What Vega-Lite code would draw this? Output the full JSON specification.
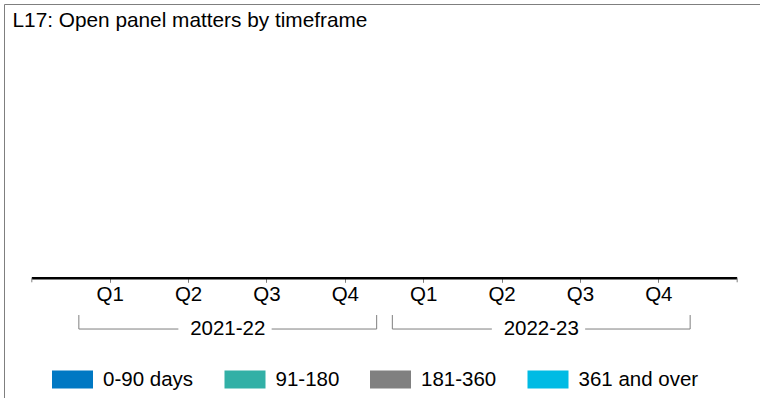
{
  "$schema": "https://vega.github.io/schema/vega-lite/v6.json",
  "width": 761,
  "height": 400,
  "autosize": {"type": "none"},
  "padding": {"left": 4, "top": 4, "right": -5, "bottom": -6},
  "background": "white",
  "config": {"font": "Liberation Sans", "view": {"stroke": "#7f7f7f", "strokeWidth": 1}},
  "title": {
    "text": "L17: Open panel matters by timeframe",
    "anchor": "start",
    "frame": "group",
    "orient": "top",
    "offset": -44,
    "dx": 8.5,
    "fontSize": 20.8,
    "fontWeight": "normal",
    "color": "black",
    "font": "Liberation Sans",
    "baseline": "alphabetic"
  },
  "datasets": {
    "matters": [
      {"quarter": "2021-22 Q1", "timeframe": "0-90 days", "matters": 0},
      {"quarter": "2021-22 Q1", "timeframe": "91-180", "matters": 0},
      {"quarter": "2021-22 Q1", "timeframe": "181-360", "matters": 0},
      {"quarter": "2021-22 Q1", "timeframe": "361 and over", "matters": 0},
      {"quarter": "2021-22 Q2", "timeframe": "0-90 days", "matters": 0},
      {"quarter": "2021-22 Q2", "timeframe": "91-180", "matters": 0},
      {"quarter": "2021-22 Q2", "timeframe": "181-360", "matters": 0},
      {"quarter": "2021-22 Q2", "timeframe": "361 and over", "matters": 0},
      {"quarter": "2021-22 Q3", "timeframe": "0-90 days", "matters": 0},
      {"quarter": "2021-22 Q3", "timeframe": "91-180", "matters": 0},
      {"quarter": "2021-22 Q3", "timeframe": "181-360", "matters": 0},
      {"quarter": "2021-22 Q3", "timeframe": "361 and over", "matters": 0},
      {"quarter": "2021-22 Q4", "timeframe": "0-90 days", "matters": 0},
      {"quarter": "2021-22 Q4", "timeframe": "91-180", "matters": 0},
      {"quarter": "2021-22 Q4", "timeframe": "181-360", "matters": 0},
      {"quarter": "2021-22 Q4", "timeframe": "361 and over", "matters": 0},
      {"quarter": "2022-23 Q1", "timeframe": "0-90 days", "matters": 0},
      {"quarter": "2022-23 Q1", "timeframe": "91-180", "matters": 0},
      {"quarter": "2022-23 Q1", "timeframe": "181-360", "matters": 0},
      {"quarter": "2022-23 Q1", "timeframe": "361 and over", "matters": 0},
      {"quarter": "2022-23 Q2", "timeframe": "0-90 days", "matters": 0},
      {"quarter": "2022-23 Q2", "timeframe": "91-180", "matters": 0},
      {"quarter": "2022-23 Q2", "timeframe": "181-360", "matters": 0},
      {"quarter": "2022-23 Q2", "timeframe": "361 and over", "matters": 0},
      {"quarter": "2022-23 Q3", "timeframe": "0-90 days", "matters": 0},
      {"quarter": "2022-23 Q3", "timeframe": "91-180", "matters": 0},
      {"quarter": "2022-23 Q3", "timeframe": "181-360", "matters": 0},
      {"quarter": "2022-23 Q3", "timeframe": "361 and over", "matters": 0},
      {"quarter": "2022-23 Q4", "timeframe": "0-90 days", "matters": 0},
      {"quarter": "2022-23 Q4", "timeframe": "91-180", "matters": 0},
      {"quarter": "2022-23 Q4", "timeframe": "181-360", "matters": 0},
      {"quarter": "2022-23 Q4", "timeframe": "361 and over", "matters": 0}
    ],
    "span": [
      {"first": "2021-22 Q1", "last": "2022-23 Q4"}
    ],
    "years": [
      {"year": "2021-22", "first": "2021-22 Q1", "second": "2021-22 Q2", "third": "2021-22 Q3", "fourth": "2021-22 Q4"},
      {"year": "2022-23", "first": "2022-23 Q1", "second": "2022-23 Q2", "third": "2022-23 Q3", "fourth": "2022-23 Q4"}
    ]
  },
  "layer": [
    {
      "data": {"name": "matters"},
      "mark": {"type": "bar", "width": {"band": 0.55}},
      "encoding": {
        "x": {
          "field": "quarter",
          "type": "nominal",
          "sort": null,
          "title": null,
          "scale": {
            "domain": ["2021-22 Q1", "2021-22 Q2", "2021-22 Q3", "2021-22 Q4", "2022-23 Q1", "2022-23 Q2", "2022-23 Q3", "2022-23 Q4"],
            "paddingInner": 0,
            "paddingOuter": 0.855
          },
          "axis": {
            "orient": "bottom",
            "offset": -125.7,
            "domain": false,
            "grid": false,
            "ticks": true,
            "tickSize": 4,
            "tickWidth": 1,
            "tickColor": "#7f7f7f",
            "labelExpr": "split(datum.label, ' ')[1]",
            "labelAngle": 0,
            "labelFontSize": 20.5,
            "labelFont": "Liberation Sans",
            "labelColor": "black",
            "labelPadding": 2.5,
            "title": null
          }
        },
        "y": {
          "field": "matters",
          "type": "quantitative",
          "stack": "zero",
          "scale": {"domain": [-22, 48], "nice": false, "zero": false},
          "axis": null
        },
        "color": {
          "field": "timeframe",
          "type": "nominal",
          "scale": {
            "domain": ["0-90 days", "91-180", "181-360", "361 and over"],
            "range": ["#0078C3", "#32B0A6", "#808080", "#00BBE4"]
          },
          "legend": {
            "orient": "none",
            "legendX": 48,
            "legendY": 355,
            "direction": "horizontal",
            "title": null,
            "symbolType": "M-1,-0.44H1V0.44H-1Z",
            "symbolSize": 1681,
            "symbolStrokeWidth": 0,
            "symbolOpacity": 1,
            "labelFontSize": 20.5,
            "labelFont": "Liberation Sans",
            "labelColor": "black",
            "labelOffset": 10,
            "labelLimit": 400,
            "columnPadding": 30.5
          }
        }
      }
    },
    {
      "data": {"name": "span"},
      "mark": {"type": "rule", "color": "black", "strokeWidth": 2.5},
      "encoding": {
        "x": {"field": "first", "type": "nominal", "bandPosition": -0.5, "title": null},
        "x2": {"field": "last", "bandPosition": 1.5},
        "y": {"datum": 0, "type": "quantitative"}
      }
    },
    {
      "data": {"name": "span"},
      "mark": {"type": "rule", "color": "#7f7f7f", "strokeWidth": 1},
      "encoding": {
        "x": {"field": "first", "type": "nominal", "bandPosition": -0.5, "title": null},
        "y": {"datum": 0, "type": "quantitative"},
        "y2": {"datum": -0.7}
      }
    },
    {
      "data": {"name": "span"},
      "mark": {"type": "rule", "color": "#7f7f7f", "strokeWidth": 1},
      "encoding": {
        "x": {"field": "last", "type": "nominal", "bandPosition": 1.5, "title": null},
        "y": {"datum": 0, "type": "quantitative"},
        "y2": {"datum": -0.7}
      }
    },
    {
      "data": {"name": "years"},
      "mark": {"type": "rule", "color": "#7f7f7f", "strokeWidth": 1},
      "encoding": {
        "x": {"field": "first", "type": "nominal", "bandPosition": 0.1, "title": null},
        "x2": {"field": "second", "bandPosition": 0.37},
        "y": {"datum": -8.88, "type": "quantitative"}
      }
    },
    {
      "data": {"name": "years"},
      "mark": {"type": "rule", "color": "#7f7f7f", "strokeWidth": 1},
      "encoding": {
        "x": {"field": "third", "type": "nominal", "bandPosition": 0.56, "title": null},
        "x2": {"field": "fourth", "bandPosition": 0.9},
        "y": {"datum": -8.88, "type": "quantitative"}
      }
    },
    {
      "data": {"name": "years"},
      "mark": {"type": "rule", "color": "#7f7f7f", "strokeWidth": 1},
      "encoding": {
        "x": {"field": "first", "type": "nominal", "bandPosition": 0.1, "title": null},
        "y": {"datum": -8.88, "type": "quantitative"},
        "y2": {"datum": -6.43}
      }
    },
    {
      "data": {"name": "years"},
      "mark": {"type": "rule", "color": "#7f7f7f", "strokeWidth": 1},
      "encoding": {
        "x": {"field": "fourth", "type": "nominal", "bandPosition": 0.9, "title": null},
        "y": {"datum": -8.88, "type": "quantitative"},
        "y2": {"datum": -6.43}
      }
    },
    {
      "data": {"name": "years"},
      "mark": {"type": "text", "fontSize": 20.5, "font": "Liberation Sans", "color": "black", "align": "center", "baseline": "middle"},
      "encoding": {
        "x": {"field": "third", "type": "nominal", "bandPosition": 0, "title": null},
        "y": {"datum": -8.88, "type": "quantitative"},
        "text": {"field": "year", "type": "nominal"}
      }
    }
  ]
}
